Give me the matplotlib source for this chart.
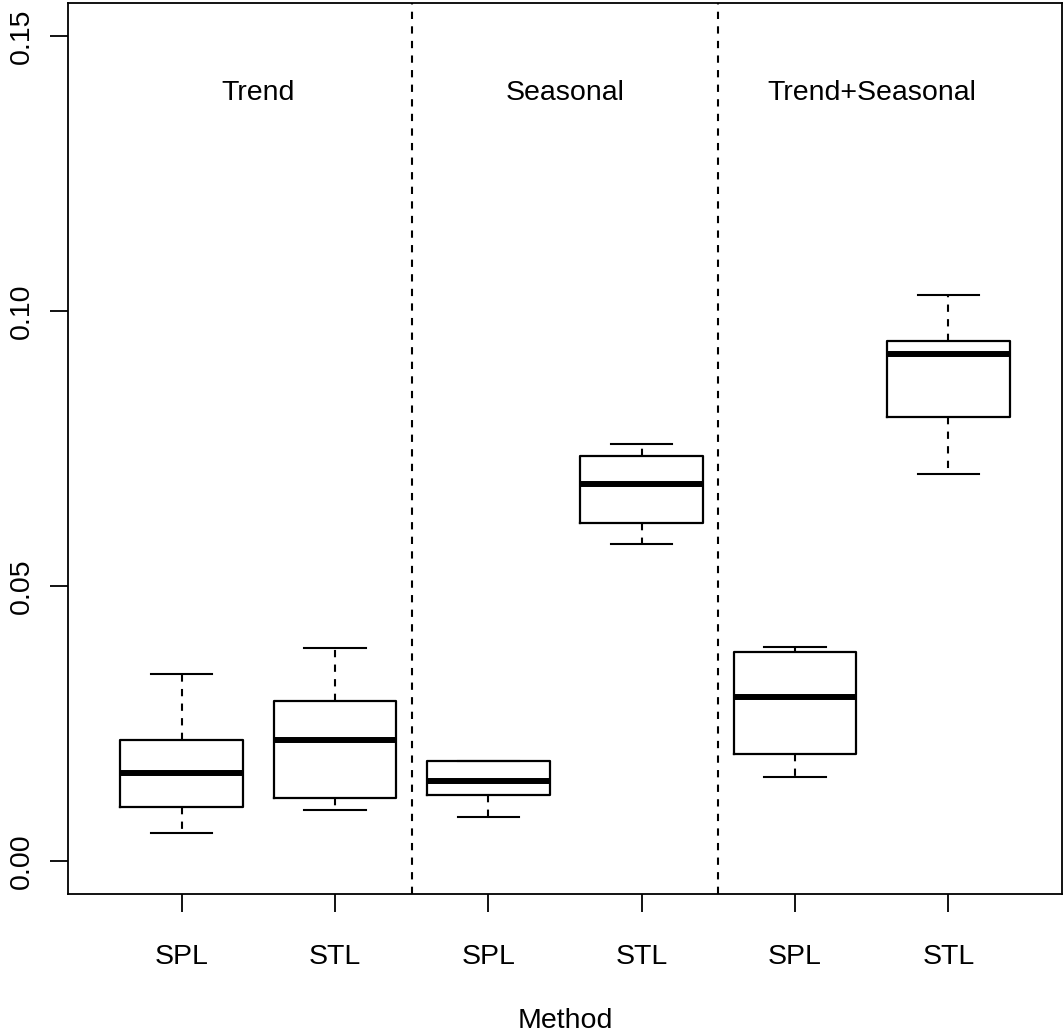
import matplotlib
matplotlib.use('Agg')
import matplotlib.pyplot as plt

# five-number summaries (whisker low, Q1, median, Q3, whisker high)
methods = ["SPL", "STL", "SPL", "STL", "SPL", "STL"]
groups = ["Trend", "Seasonal", "Trend+Seasonal"]
whislo = [0.0051, 0.0093, 0.0080, 0.0576, 0.0153, 0.0704]
q1 = [0.0098, 0.0115, 0.0120, 0.0615, 0.0195, 0.0807]
med = [0.0160, 0.0220, 0.0145, 0.0685, 0.0298, 0.0922]
q3 = [0.0220, 0.0291, 0.0182, 0.0736, 0.0380, 0.0945]
whishi = [0.0340, 0.0387, 0.0182, 0.0758, 0.0389, 0.1029]
yticks = [0.00, 0.05, 0.10, 0.15]

plt.rcParams['font.family'] = ['Liberation Sans', 'DejaVu Sans']

W, H = 1063, 1032
fig = plt.figure(figsize=(W / 100, H / 100), dpi=100)
ax = fig.add_axes([68 / W, (H - 894) / H, (1062 - 68) / W, (894 - 3) / H])

stats = []
for i in range(len(methods)):
    stats.append(dict(whislo=whislo[i], q1=q1[i], med=med[i], q3=q3[i],
                      whishi=whishi[i], fliers=[], label=methods[i]))

pos = list(range(1, len(methods) + 1))
ax.bxp(stats, positions=pos, widths=0.8, capwidths=0.4, showfliers=False,
       boxprops=dict(color='black', linewidth=1.6),
       medianprops=dict(color='black', linewidth=4.3, solid_capstyle='butt'),
       whiskerprops=dict(color='black', linewidth=1.5, linestyle=(0, (3.5, 3.5))),
       capprops=dict(color='black', linewidth=1.5))

# separators between groups
for x in [2.5, 4.5]:
    ax.axvline(x, color='black', linewidth=1.5, linestyle=(0, (3.5, 3.5)))

for k, g in enumerate(groups):
    ax.text(2 * k + 1.5, 0.1396, g, ha='center', va='center', fontsize=20.5)

ax.set_xlim(0.26, 6.74)
ax.set_ylim(-0.006, 0.156)
ax.set_xticks(pos)
ax.set_xticklabels(methods)
ax.set_yticks(yticks)
ax.set_yticklabels([f"{v:.2f}" for v in yticks], rotation=90, va='center')
ax.tick_params(axis='both', length=13, width=1.3, labelsize=20.5, color='black')
ax.tick_params(axis='x', pad=23)
ax.tick_params(axis='y', pad=11)
for s in ax.spines.values():
    s.set_linewidth(1.3)

ax.set_xlabel("Method", fontsize=20.5, labelpad=27)

fig.savefig("out.png", dpi=100, facecolor='white')
